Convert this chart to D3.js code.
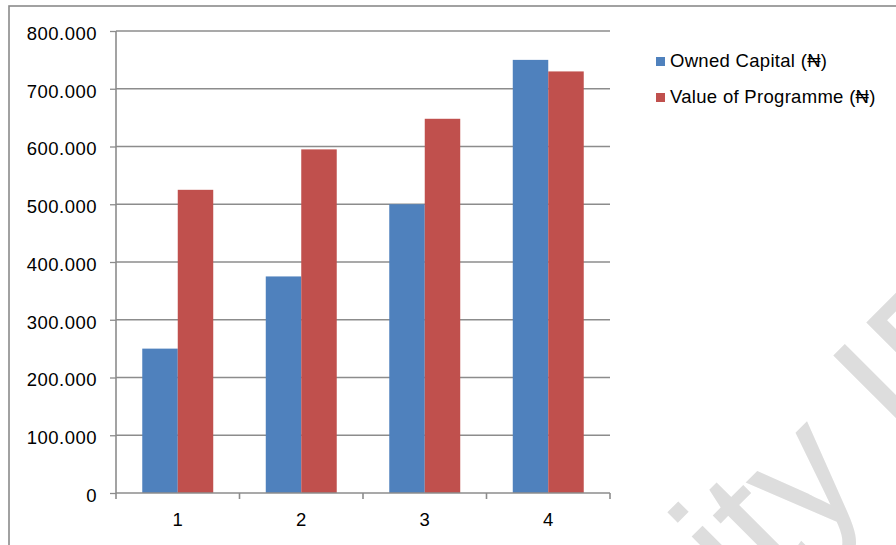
<!DOCTYPE html>
<html>
<head>
<meta charset="utf-8">
<script src="https://cdn.jsdelivr.net/npm/d3@7"></script>
<style>
  html, body { margin: 0; padding: 0; background: #fff; }
  svg { display: block; }
  text { font-family: "Liberation Sans", Arial, "DejaVu Sans", sans-serif; }
</style>
</head>
<body>
<svg id="chart" width="896" height="545"></svg>
<script>
// Categories (programme cycles) and the two series
const categories = ["1", "2", "3", "4"];
const seriesNames = ["Owned Capital (₦)", "Value of Programme (₦)"];
const ownedCapital = [250, 375, 500, 750];
const programmeValue = [525, 595, 648, 730];
const yTicks = [0, 100, 200, 300, 400, 500, 600, 700, 800];
const seriesColors = ["#4f81bd", "#c0504d"];

const svg = d3.select("#chart");

// chart frame (continues past the page edge on the right and bottom)
svg.append("rect")
  .attr("x", 9).attr("y", 6)
  .attr("width", 960).attr("height", 600)
  .attr("fill", "#fff")
  .attr("stroke", "#8a8a8a").attr("stroke-width", 1.6);

const plot = { left: 116, right: 610, top: 31, bottom: 493 };

const x = d3.scaleBand().domain(categories).range([plot.left, plot.right]).padding(0);
const x1 = d3.scaleBand().domain(seriesNames).range([0, x.bandwidth()])
  .paddingInner(0).paddingOuter(0.74);
const y = d3.scaleLinear().domain([0, 800]).range([plot.bottom, plot.top]);

// horizontal gridlines
svg.append("g")
  .selectAll("line")
  .data(yTicks.filter(d => d > 0))
  .join("line")
  .attr("x1", plot.left).attr("x2", plot.right)
  .attr("y1", d => y(d)).attr("y2", d => y(d))
  .attr("stroke", "#8c8c8c").attr("stroke-width", 1.3);

// bars
const rows = categories.map((c, i) => ({ cat: c, values: [ownedCapital[i], programmeValue[i]] }));
svg.append("g")
  .selectAll("g")
  .data(rows)
  .join("g")
  .attr("transform", d => `translate(${x(d.cat)},0)`)
  .selectAll("rect")
  .data(d => d.values.map((v, k) => ({ name: seriesNames[k], value: v, k })))
  .join("rect")
  .attr("x", d => x1(d.name))
  .attr("width", x1.bandwidth())
  .attr("y", d => y(d.value))
  .attr("height", d => y(0) - y(d.value))
  .attr("fill", d => seriesColors[d.k]);

// y axis
const yAxis = d3.axisLeft(y).tickValues(yTicks).tickSize(6).tickPadding(13)
  .tickFormat(d => d === 0 ? "0" : d3.format(",d")(d) + ".000");
const gy = svg.append("g").attr("transform", `translate(${plot.left},0)`).call(yAxis);
gy.select(".domain").attr("stroke", "#8c8c8c").attr("stroke-width", 1.6)
  .attr("d", `M0,${plot.top}V${plot.bottom}`);
gy.selectAll(".tick line").attr("stroke", "#8c8c8c").attr("stroke-width", 1.3);
gy.selectAll(".tick text")
  .attr("fill", "#000").attr("font-size", 18.5).attr("dy", "0.45em")
  .style("letter-spacing", "0.5px")
  .style("font-family", "'Liberation Sans', Arial, sans-serif");

// x axis with ticks at band boundaries
const gx = svg.append("g").attr("transform", `translate(0,${plot.bottom})`);
gx.append("line").attr("x1", plot.left).attr("x2", plot.right)
  .attr("stroke", "#8c8c8c").attr("stroke-width", 1.6);
const bounds = categories.map(c => x(c)).concat([plot.right]);
gx.selectAll("line.tk").data(bounds).join("line").attr("class", "tk")
  .attr("x1", d => d).attr("x2", d => d).attr("y1", 0).attr("y2", 6)
  .attr("stroke", "#8c8c8c").attr("stroke-width", 1.6);
gx.selectAll("text").data(categories).join("text")
  .attr("x", d => x(d) + x.bandwidth() / 2)
  .attr("y", 33)
  .attr("text-anchor", "middle")
  .attr("font-size", 18.5).attr("fill", "#000")
  .text(d => d);

// legend
const legend = svg.append("g").attr("transform", "translate(656,57)");
seriesNames.forEach((name, i) => {
  const g = legend.append("g").attr("transform", `translate(0,${i * 36})`);
  g.append("rect").attr("width", 9).attr("height", 9).attr("fill", seriesColors[i]);
  g.append("text").attr("x", 14).attr("y", 9.5).attr("font-size", 18.5)
    .style("letter-spacing", "0.3px")
    .attr("fill", "#000").text(name);
});

// faint diagonal watermark across the lower right
const wm = svg.append("text")
  .attr("font-size", 175)
  .attr("fill", "#dddddd")
  .style("font-family", "'Liberation Sans', Arial, sans-serif")
  .text("University IBADAN");
const pre = wm.node().getSubStringLength(0, 7); // width of "Univers"
// baseline start position along the rotated axis
const s0 = 98 - pre, up = -961;
const ox = 0.7071 * (s0 - up), oy = 0.7071 * (-s0 - up);
wm.attr("transform", `translate(${ox},${oy}) rotate(-45)`);
</script>
</body>
</html>
